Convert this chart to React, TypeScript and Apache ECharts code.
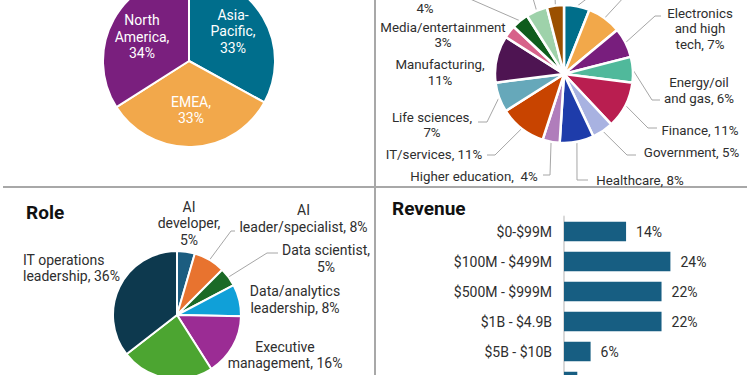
import React, { useEffect, useRef } from 'react';
import * as echarts from 'echarts';

// ---------- DATA ----------
const regionNames = ['Asia-\nPacific', 'EMEA', 'North\nAmerica'];
const regionValues = [33, 33, 34];

// slice names (top ones are cut off in the reference and not displayed)
const industryNames = [
  'Business services', 'Construction', 'Electronics\nand high\ntech', 'Energy/oil\nand gas',
  'Finance', 'Government', 'Healthcare', 'Higher education', 'IT/services', 'Life sciences',
  'Manufacturing', 'Media/entertainment', 'Retail', 'Telecommunications', 'Transportation',
];
const industryValues = [6, 8, 7, 6, 11, 5, 8, 4, 11, 7, 11, 3, 4, 5, 4];
// how the label text joins name and value: null = not visible, 'value' = value only
const industrySep: (string | null)[] = [null, null, ', ', ', ', ', ', ', ', ', ', ',  ', ', ', ',\n', ',\n', '\n', 'value', null, null];

const roleNames = ['AI\ndeveloper', 'AI\nleader/specialist', 'Data scientist', 'Data/analytics\nleadership', 'Executive\nmanagement', 'Other roles', 'IT operations\nleadership'];
const roleValues = [4.5, 8, 4.8, 8, 15.7, 23.5, 35.5];
const roleSep: (string | null)[] = [',\n', ', ', ',\n', ', ', ', ', null, ', '];

const revenueCats = ['$0-$99M', '$100M - $499M', '$500M - $999M', '$1B - $4.9B', '$5B - $10B', 'More than $10B'];
const revenueValues = [14, 24, 22, 22, 6, 3];

// ---------- STYLE / LAYOUT ----------
const FONT = 'Roboto';
const TEXT = '#2e2e2e';
const REVENUE_LABELS_IN_VIEW = 5; // the last row's texts fall below the cropped view
const regionColors = ['#006e8c', '#f2a84b', '#7a1f7e'];
const industryColors = ['#006e8a', '#f2a84a', '#781e7d', '#50b99b', '#b91e50', '#a8b2e1', '#1e3caa', '#b07dbb', '#c84400', '#66a8ba', '#4e1452', '#d7628a', '#0f5c1c', '#9ed2aa', '#9b5000'];
const roleColors = ['#1c5d80', '#e8732f', '#1b6a27', '#10a0d8', '#9b2c94', '#4ca531', '#0d394e'];

const REG_C = [189, 61];
const REG_R = 86;
const IND_C = [564, 74];
const IND_R = 69;
const ROLE_C = [177, 315];
const ROLE_R = 64;

const regionLabelXY = [[233, 31], [191, 110], [142, 36.5]];

const industryLabelXY = [
  [600, -40], [640, -40], [700, 28.5], [699, 90.5], [700, 130], [691.5, 152], [640, 180],
  [474, 176], [434, 154], [432, 125], [440, 72.5], [443, 35], [425, 8], [530, -40], [555, -40],
];
const industryLineTail: (number[][] | null)[] = [
  [[589, -3], [596, -3]],
  [[625, -4], [632, -4]],
  [[655, 16], [661, 16]],
  [[652, 100], [660, 100]],
  [[648, 128], [657, 128]],
  [[627, 155], [636, 155]],
  [[577, 180], [588, 180]],
  [[550, 175], [543, 175]],
  [[495, 155], [487, 155]],
  [[487, 122], [478, 122]],
  null,
  null,
  [[461, -5], [455, -5]],
  [[532, -5], [532, -9]],
  [[555, -5], [555, -9]],
];

const roleLabelXY = [[189, 223], [303.5, 218.5], [326, 258.5], [295, 299.5], [285, 355], [0, 0], [23, 268]];
const roleAlign = ['center', 'center', 'center', 'center', 'center', 'center', 'left'];
const roleLineTail: (number[][] | null)[] = [null, [[231, 231], [235, 231]], [[267, 253], [278, 253]], null, null, null, null];

function slicePoint(values: number[], i: number, c: number[], r: number) {
  const total = values.reduce((a, b) => a + b, 0);
  let cum = 0;
  for (let k = 0; k < i; k++) cum += values[k];
  const a = ((cum + values[i] / 2) / total) * 2 * Math.PI;
  return [c[0] + r * Math.sin(a), c[1] - r * Math.cos(a)];
}

function labelText(names: string[], values: number[], seps: (string | null)[], i: number) {
  const s = seps[i];
  const v = Math.round(values[i]) + '%';
  if (s === null) return '';
  if (s === 'value') return v;
  return names[i] + s + v;
}

export default function App() {
  const ref = useRef<HTMLDivElement>(null);

  useEffect(() => {
    if (!ref.current) return;
    const chart = echarts.init(ref.current, undefined, { renderer: 'svg' });

    const option: any = {
      animation: false,
      backgroundColor: '#ffffff',
      textStyle: { fontFamily: FONT },
      graphic: [
        { type: 'line', shape: { x1: 3, y1: 187, x2: 747, y2: 187 }, style: { stroke: '#a8a8a8', lineWidth: 2 } },
        { type: 'line', shape: { x1: 375, y1: 0, x2: 375, y2: 375 }, style: { stroke: '#a8a8a8', lineWidth: 2 } },
        { type: 'text', x: 26, y: 212, style: { text: 'Role', font: `bold 19px ${FONT}`, fill: '#111', verticalAlign: 'middle', align: 'left' } },
        { type: 'text', x: 392, y: 208, style: { text: 'Revenue', font: `bold 19px ${FONT}`, fill: '#111', verticalAlign: 'middle', align: 'left' } },
      ],
      grid: { left: 564, top: 216.5, width: 133, height: 180, outerBoundsMode: 'none', containLabel: false },
      xAxis: { type: 'value', min: 0, max: 30, show: false },
      yAxis: {
        type: 'category',
        data: revenueCats,
        inverse: true,
        axisLine: { show: true, lineStyle: { color: '#d9d9d9', width: 2 } },
        axisTick: { show: false },
        splitLine: { show: false },
        axisLabel: {
          fontSize: 14, color: TEXT, margin: 12, fontFamily: FONT,
          formatter: (v: string, i: number) => (i < REVENUE_LABELS_IN_VIEW ? v : ''),
        },
      },
      series: [
        {
          type: 'pie',
          silent: true,
          center: REG_C,
          radius: REG_R,
          startAngle: 90,
          clockwise: true,
          avoidLabelOverlap: false,
          itemStyle: { borderColor: '#fff', borderWidth: 2 },
          label: {
            show: true, position: 'inside', color: '#fff', fontSize: 14, lineHeight: 16.5, fontFamily: FONT,
            formatter: (p: any) => labelText(regionNames, regionValues, [',\n', ',\n', ',\n'], p.dataIndex),
          },
          labelLayout: (p: any) => ({ x: regionLabelXY[p.dataIndex][0], y: regionLabelXY[p.dataIndex][1], align: 'center', verticalAlign: 'middle' }),
          emphasis: { disabled: true },
          data: regionNames.map((n, i) => ({ name: n, value: regionValues[i], itemStyle: { color: regionColors[i] } })),
        },
        {
          type: 'pie',
          silent: true,
          center: IND_C,
          radius: IND_R,
          startAngle: 90,
          clockwise: true,
          avoidLabelOverlap: false,
          itemStyle: { borderColor: '#fff', borderWidth: 2.5 },
          label: {
            show: true, position: 'outside', color: TEXT, fontSize: 13.3, lineHeight: 15.5, fontFamily: FONT,
            formatter: (p: any) => labelText(industryNames, industryValues, industrySep, p.dataIndex),
          },
          labelLine: { show: true, lineStyle: { color: '#a6a6a6', width: 1 } },
          labelLayout: (p: any) => {
            const i = p.dataIndex;
            const res: any = { x: industryLabelXY[i][0], y: industryLabelXY[i][1], align: 'center', verticalAlign: 'middle' };
            const tail = industryLineTail[i];
            if (tail) res.labelLinePoints = [slicePoint(industryValues, i, IND_C, IND_R), ...tail];
            return res;
          },
          emphasis: { disabled: true },
          data: industryNames.map((n, i) => ({
            name: n,
            value: industryValues[i],
            itemStyle: { color: industryColors[i] },
            labelLine: { show: industryLineTail[i] !== null },
          })),
        },
        {
          type: 'pie',
          silent: true,
          center: ROLE_C,
          radius: ROLE_R,
          startAngle: 90,
          clockwise: true,
          avoidLabelOverlap: false,
          itemStyle: { borderColor: '#fff', borderWidth: 2 },
          label: {
            show: true, position: 'outside', color: TEXT, fontSize: 14, lineHeight: 16.5, fontFamily: FONT,
            formatter: (p: any) => labelText(roleNames, roleValues, roleSep, p.dataIndex),
          },
          labelLine: { show: true, lineStyle: { color: '#a6a6a6', width: 1 } },
          labelLayout: (p: any) => {
            const i = p.dataIndex;
            const res: any = { x: roleLabelXY[i][0], y: roleLabelXY[i][1], align: roleAlign[i], verticalAlign: 'middle' };
            const tail = roleLineTail[i];
            if (tail) res.labelLinePoints = [slicePoint(roleValues, i, ROLE_C, ROLE_R), ...tail];
            return res;
          },
          emphasis: { disabled: true },
          data: roleNames.map((n, i) => ({
            name: n,
            value: roleValues[i],
            itemStyle: { color: roleColors[i] },
            label: { show: roleSep[i] !== null },
            labelLine: { show: roleLineTail[i] !== null },
          })),
        },
        {
          type: 'bar',
          silent: true,
          data: revenueValues.map((v, i) => ({ value: v, label: { show: i < REVENUE_LABELS_IN_VIEW } })),
          barWidth: 19.5,
          itemStyle: { color: '#175e82' },
          label: { show: true, position: 'right', distance: 10, formatter: '{c}%', fontSize: 14, color: TEXT, fontFamily: FONT },
          emphasis: { disabled: true },
        },
      ],
    };

    chart.setOption(option);
    return () => chart.dispose();
  }, []);

  return <div ref={ref} style={{ position: 'fixed', left: 0, top: 0, width: 750, height: 375, background: '#fff' }} />;
}
